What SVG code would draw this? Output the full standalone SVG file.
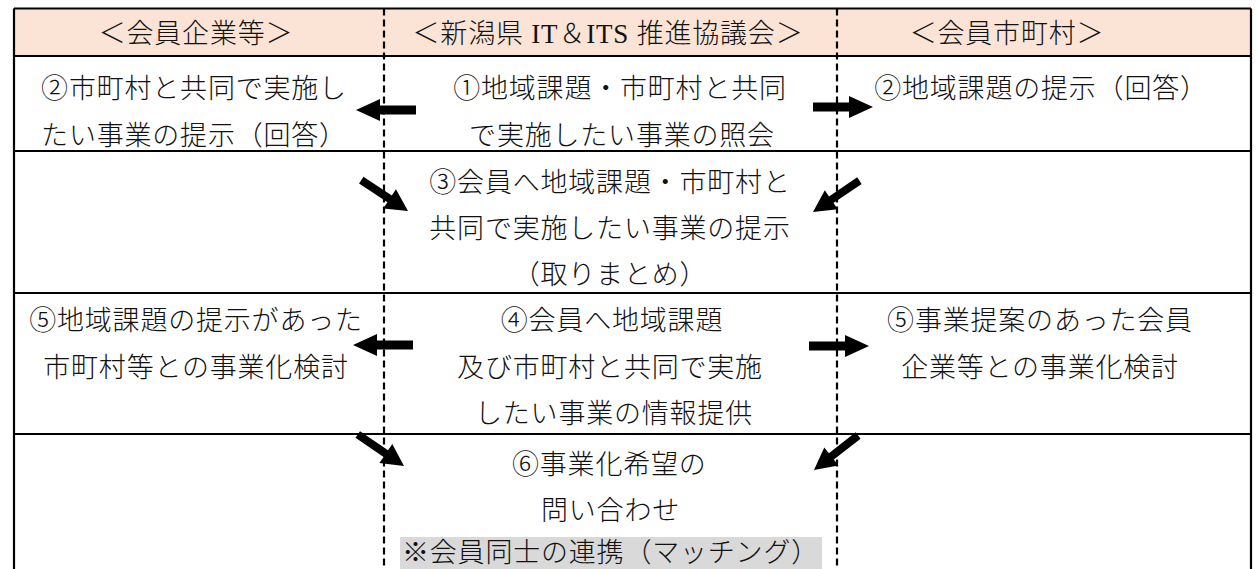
<svg xmlns="http://www.w3.org/2000/svg" width="1257" height="569" viewBox="0 0 1257 569">
<style>
.t{font-family:"Liberation Serif","Noto Sans CJK JP",serif;font-size:27px;font-weight:300;fill:#111;letter-spacing:0.8px}
.m{text-anchor:middle}
.line{stroke:#000;stroke-width:2.2;fill:none}
.dash{stroke:#000;stroke-width:2.2;stroke-dasharray:7 4;fill:none}
.arr{fill:#000}
</style>
<defs>
<polygon id="a" points="0,0 -24,-11 -24,-4.5 -60,-4.5 -60,4.5 -24,4.5 -24,11"/>
<polygon id="d" points="0,0 -22,-11.5 -22,-4 -56,-4 -56,4 -22,4 -22,11.5"/>
</defs>
<rect width="1257" height="569" fill="#fff"/>
<g id="table">
<rect x="14" y="8.5" width="1237" height="47.5" fill="#fbe4d5"/>
<rect x="400" y="537" width="422" height="34" fill="#d9d9d9"/>
<path class="line" d="M14,8.5H1251M14,8.5V569M1251,8.5V569M14,56H1251M14,151H1251M14,293H1251M14,434H1251"/>
<path class="dash" d="M384,8.5V569M837,8.5V569"/>
</g>
<g id="header">
<text class="t m" x="196" y="43">＜会員企業等＞</text>
<text class="t m" x="608" y="43">＜新潟県 IT＆ITS 推進協議会＞</text>
<text class="t m" x="1007" y="43">＜会員市町村＞</text>
</g>
<g id="node-r1-left"><text class="t m" x="194" y="98">②市町村と共同で実施し</text><text class="t m" x="194" y="145">たい事業の提示（回答）</text></g>
<g id="node-r1-center"><text class="t m" x="620" y="98">①地域課題・市町村と共同</text><text class="t m" x="622" y="145">で実施したい事業の照会</text></g>
<g id="node-r1-right"><text class="t m" x="1041" y="98">②地域課題の提示（回答）</text></g>
<g id="node-r2-center"><text class="t m" x="610" y="192">③会員へ地域課題・市町村と</text><text class="t m" x="610" y="238">共同で実施したい事業の提示</text><text class="t m" x="610" y="284">（取りまとめ）</text></g>
<g id="node-r3-left"><text class="t m" x="196" y="330">⑤地域課題の提示があった</text><text class="t m" x="196" y="377">市町村等との事業化検討</text></g>
<g id="node-r3-center"><text class="t m" x="612" y="330">④会員へ地域課題</text><text class="t m" x="610" y="377">及び市町村と共同で実施</text><text class="t m" x="614" y="423">したい事業の情報提供</text></g>
<g id="node-r3-right"><text class="t m" x="1040" y="330">⑤事業提案のあった会員</text><text class="t m" x="1040" y="377">企業等との事業化検討</text></g>
<g id="node-r4-center"><text class="t" x="512" y="474">⑥事業化希望の</text><text class="t" x="541" y="520">問い合わせ</text><text class="t" x="402" y="562">※会員同士の連携（マッチング）</text></g>
<g id="connectors" class="arr">
<use href="#a" transform="translate(356,110) rotate(180)"/>
<use href="#a" transform="translate(873,107)"/>
<use href="#d" transform="translate(408,211) rotate(33.4)"/>
<use href="#d" transform="translate(813,212) rotate(146)"/>
<use href="#a" transform="translate(353,345) rotate(180)"/>
<use href="#a" transform="translate(869,346)"/>
<use href="#d" transform="translate(404,466) rotate(34.3)"/>
<use href="#d" transform="translate(814,470) rotate(142)"/>
</g>
</svg>
